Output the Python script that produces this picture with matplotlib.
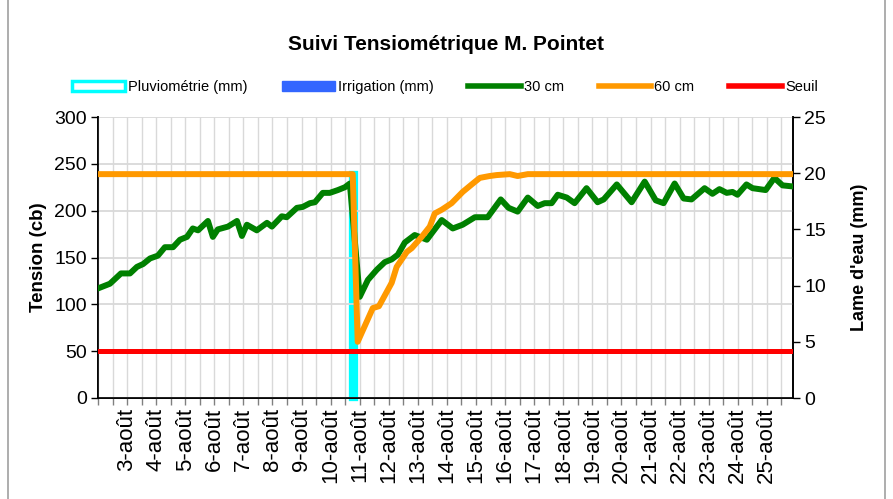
import numpy as np
import matplotlib
matplotlib.use("Agg")
import matplotlib.pyplot as plt
from matplotlib.lines import Line2D
from matplotlib.patches import Patch
from matplotlib.ticker import FixedLocator

plt.rcParams["font.family"] = ["Liberation Sans", "DejaVu Sans"]

GREEN = "#008000"
ORANGE = "#FF9900"
RED = "#FF0000"
CYAN = "#00FFFF"
BLUE = "#3366FF"
GRID = "#D9D9D9"

# day of August (fractional) and tension (cb)
day_30 = [2.00, 2.41, 2.79, 3.10, 3.34, 3.55, 3.79, 4.06, 4.30, 4.58, 4.82, 5.06,
          5.26, 5.44, 5.78, 5.95, 6.12, 6.47, 6.78, 6.95, 7.12, 7.46, 7.81, 7.98,
          8.32, 8.49, 8.84, 9.04, 9.29, 9.46, 9.73, 9.97, 10.25, 10.49, 10.66,
          11.00, 11.28, 11.59, 11.86, 12.10, 12.31, 12.55, 12.89, 13.31, 13.82,
          14.20, 14.54, 14.96, 15.40, 15.85, 16.12, 16.43, 16.78, 17.12, 17.36,
          17.60, 17.81, 18.12, 18.39, 18.80, 19.18, 19.39, 19.84, 20.35, 20.80,
          21.18, 21.45, 21.83, 22.14, 22.41, 22.86, 23.13, 23.37, 23.62, 23.82,
          23.99, 24.30, 24.51, 24.96, 25.26, 25.54, 25.85]
tension_30 = [117, 122, 133, 133, 140, 143, 149, 152, 161, 161, 169, 172,
              181, 179, 189, 172, 180, 183, 189, 173, 185, 179, 187, 183,
              194, 193, 203, 204, 208, 209, 219, 219, 222, 225, 229,
              108, 126, 137, 145, 148, 153, 166, 174, 169, 190,
              181, 185, 193, 193, 212, 203, 199, 214, 205, 208,
              208, 217, 214, 208, 224, 209, 212, 228, 209, 231,
              211, 208, 229, 213, 212, 224, 218, 223, 219, 220,
              217, 228, 224, 222, 235, 227, 226]

day_60 = [2.07, 10.76, 10.93, 11.45, 11.66, 12.10, 12.27, 12.62, 12.79, 13.13,
          13.41, 13.58, 13.82, 14.16, 14.54, 14.89, 15.13, 15.47, 15.71, 16.16,
          16.43, 16.78, 25.85]
tension_60 = [239, 239, 60, 96, 98, 123, 140, 156, 160, 172,
              183, 197, 201, 208, 220, 229, 235, 237, 238, 239,
              237, 239, 239]

seuil = 50
pluvio_day = [10.76]
pluvio_mm = [20]
irrigation_day = []
irrigation_mm = []

label_days = list(range(3, 26))
labels = [f"{d}-août" for d in label_days]

fig = plt.figure(figsize=(8.93, 4.99), dpi=100)
ax = fig.add_axes([98 / 893, 1 - 398 / 499, (793 - 98) / 893, (398 - 117) / 499])
ax2 = ax.twinx()

# bars on the secondary axis, kept behind the tension lines
ax2.bar(pluvio_day, pluvio_mm, width=0.15, facecolor="white", edgecolor=CYAN, lw=3.8,
        zorder=2, clip_on=False)
ax2.bar(irrigation_day, irrigation_mm, width=0.15, color=BLUE)
ax.set_zorder(ax2.get_zorder() + 1)
ax.patch.set_visible(False)

ax.plot(day_30, tension_30, color=GREEN, lw=4.3, solid_joinstyle="round", zorder=3)
ax.plot(day_60, tension_60, color=ORANGE, lw=4.3, solid_joinstyle="round", zorder=4)
ax.axhline(seuil, color=RED, lw=3.6, zorder=5)

ax.set_xlim(2, 25.9)
ax.set_ylim(0, 300)
ax2.set_ylim(0, 25)
ax.set_yticks(np.arange(0, 301, 50))
ax2.set_yticks(np.arange(0, 26, 5))

ax.xaxis.set_major_locator(FixedLocator(label_days))
ax.xaxis.set_minor_locator(FixedLocator(np.arange(2, 26, 0.5)))
ax.set_xticklabels(labels, rotation=90, fontsize=16)
ax.tick_params(axis="x", which="both", direction="out", length=5, width=1, color="#808080", pad=2)
ax.tick_params(axis="y", direction="out", length=5, width=1, labelsize=14, pad=3)
ax2.tick_params(axis="y", direction="out", length=5, width=1, labelsize=14, pad=3)

ax.grid(True, axis="x", which="both", color=GRID, lw=1)
ax.grid(True, axis="y", color=GRID, lw=1.3)
ax.set_axisbelow(True)

for a in (ax, ax2):
    a.spines["top"].set_visible(False)
    a.spines["left"].set_linewidth(1.2)
    a.spines["right"].set_linewidth(1.2)
    a.spines["bottom"].set_linewidth(1.2)

ax.set_ylabel("Tension (cb)", fontsize=13.5, fontweight="bold", labelpad=5)
ax2.set_ylabel("Lame d'eau (mm)", fontsize=13, fontweight="bold", labelpad=18)

fig.text(446 / 893, 1 - 44 / 499, "Suivi Tensiométrique M. Pointet",
         fontsize=15, fontweight="bold", ha="center", va="center")

handles = [
    Patch(facecolor="white", edgecolor=CYAN, lw=2.5),
    Patch(facecolor=BLUE, edgecolor=BLUE),
    Line2D([], [], color=GREEN, lw=4),
    Line2D([], [], color=ORANGE, lw=4),
    Line2D([], [], color=RED, lw=4),
]
names = ["Pluviométrie (mm)", "Irrigation (mm)", "30 cm", "60 cm", "Seuil"]
fig.legend(handles, names, loc="center", bbox_to_anchor=(445 / 893, 1 - 87 / 499),
           ncol=5, frameon=False, fontsize=10.5, handlelength=3.6, handleheight=0.7,
           handletextpad=0.2, columnspacing=2.4)

# outer chart frame edges
fig.add_artist(Line2D([8 / 893, 8 / 893], [0, 1], color="#A0A0A0", lw=1.2, transform=fig.transFigure))
fig.add_artist(Line2D([885 / 893, 885 / 893], [0, 1], color="#A0A0A0", lw=1.2, transform=fig.transFigure))

fig.savefig("out.png", dpi=100)
